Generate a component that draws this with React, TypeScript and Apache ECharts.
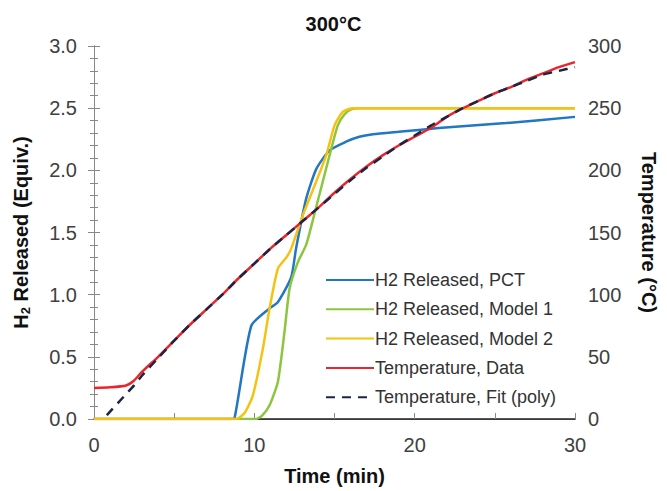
import React, { useEffect, useRef } from "react";
import * as echarts from "echarts";

const xTicks = [0, 10, 20, 30];

// H2 Released, PCT  [time (min), equiv]
const pctTime = [0, 8.5, 8.77, 9.81, 10.95, 11.47, 12.3, 12.6, 13.23, 13.86, 14.69, 15.72, 16.55, 17.4, 19, 21.5, 25.7, 30];
const pctVal = [0, 0, 0.01, 0.75, 0.89, 0.94, 1.14, 1.37, 1.77, 2.01, 2.16, 2.23, 2.27, 2.29, 2.31, 2.34, 2.38, 2.43];

// H2 Released, Model 1
const m1Time = [0, 10.1, 10.5, 10.95, 11.47, 11.88, 12.2, 12.71, 13.23, 13.65, 14.27, 14.69, 15.2, 15.62, 16.03, 16.5, 30];
const m1Val = [0, 0, 0.03, 0.11, 0.3, 0.7, 1.05, 1.26, 1.4, 1.6, 1.91, 2.12, 2.36, 2.45, 2.49, 2.5, 2.5];

// H2 Released, Model 2
const m2Time = [0, 8.88, 9.4, 9.91, 10.54, 10.95, 11.47, 12.0, 12.3, 13.03, 13.86, 14.48, 15.0, 15.51, 16.14, 30];
const m2Val = [0, 0, 0.05, 0.19, 0.57, 0.89, 1.21, 1.3, 1.37, 1.64, 1.91, 2.12, 2.36, 2.47, 2.5, 2.5];

// Temperature, Data (°C)
const tempTime = [0, 1, 2, 2.5, 3, 4, 5, 6, 7, 8, 9, 10, 11, 12, 13, 14, 15, 16, 17, 18, 19, 20, 21, 22, 23, 24, 25, 26, 27, 28, 29, 30];
const tempVal = [25, 25.5, 27, 31, 38, 50, 63, 76, 88, 100, 113, 125, 137, 148, 159, 170, 182, 193, 203, 212, 220, 227, 234, 243, 250, 256, 262, 267, 273, 278, 283, 287];

// Temperature, Fit (poly)
const fitTime = [0.8, 1, 1.5, 2, 2.5, 3, 4, 5, 6, 7, 8, 9, 10, 11, 12, 13, 14, 15, 16, 17, 18, 19, 20, 21, 22, 23, 24, 25, 26, 27, 28, 29, 30];
const fitVal = [3, 6, 13, 20, 27, 35, 49, 63, 76, 88, 100, 113, 125, 137, 148, 159, 170, 181, 192, 202, 211, 220, 228, 236, 243, 250, 256, 262, 267, 272, 277, 280, 283];

const pair = (xs: number[], ys: number[]) => xs.map((x, i) => [x, ys[i]]);

export default function App() {
  const ref = useRef<HTMLDivElement>(null);
  useEffect(() => {
    if (!ref.current) return;
    const chart = echarts.init(ref.current, null, { renderer: "svg" });
    const font = "Arial, 'Liberation Sans', sans-serif";
    const lbl = { color: "#404040", fontSize: 20, fontFamily: font };
    const lineW = 2.5;
    chart.setOption({
      animation: false,
      backgroundColor: "#ffffff",
      title: {
        text: "300°C",
        left: "center",
        top: 9,
        textStyle: { fontSize: 20, fontWeight: "bold", color: "#111", fontFamily: font },
      },
      grid: { left: 94, right: 91, top: 46, bottom: 70 },
      legend: {
        orient: "vertical",
        left: 320,
        top: 266,
        itemWidth: 48,
        itemHeight: 18,
        itemGap: 11.3,
        itemStyle: { opacity: 0 },
        textStyle: { fontSize: 18, lineHeight: 18, color: "#333", fontFamily: font, padding: [0, 0, 0, -4] },
        data: [
          "H2 Released, PCT",
          "H2 Released, Model 1",
          "H2 Released, Model 2",
          "Temperature, Data",
          "Temperature, Fit (poly)",
        ],
      },
      xAxis: [
        {
          type: "value",
          min: 0,
          max: 30,
          interval: 5,
          name: "Time (min)",
          nameLocation: "middle",
          nameGap: 47,
          nameTextStyle: { fontSize: 20, fontWeight: "bold", color: "#111", fontFamily: font },
          axisLine: { lineStyle: { color: "#888", width: 1 } },
          axisTick: { inside: true, length: 6, lineStyle: { color: "#888" } },
          axisLabel: {
            ...lbl,
            margin: 16,
            formatter: (v: number) => (xTicks.includes(v) ? String(v) : ""),
          },
          splitLine: { show: false },
        },
        {
          type: "value",
          position: "top",
          min: 0,
          max: 30,
          axisLine: { show: true, lineStyle: { color: "#222", width: 1.5 } },
          axisTick: { show: false },
          axisLabel: { show: false },
          splitLine: { show: false },
        },
      ],
      yAxis: [
        {
          type: "value",
          min: 0,
          max: 3,
          interval: 0.5,
          name: "{b|H}{s|2}{b| Released (Equiv.)}",
          nameLocation: "middle",
          nameGap: 62,
          nameRotate: 90,
          nameTextStyle: {
            rich: {
              b: { fontSize: 20, fontWeight: "bold", color: "#111", fontFamily: font },
              s: { fontSize: 13, fontWeight: "bold", color: "#111", fontFamily: font, verticalAlign: "bottom", padding: [9, 0, 0, 0] },
            },
          },
          axisLine: { show: true, lineStyle: { color: "#888", width: 1 } },
          axisTick: { inside: true, length: 6, lineStyle: { color: "#888" } },
          minorTick: { show: true, splitNumber: 5, length: 4, lineStyle: { color: "#888" } },
          axisLabel: { ...lbl, margin: 17, formatter: (v: number) => v.toFixed(1) },
          splitLine: { show: false },
        },
        {
          type: "value",
          min: 0,
          max: 300,
          interval: 50,
          position: "right",
          name: "Temperature (°C)",
          nameLocation: "middle",
          nameGap: 64,
          nameRotate: -90,
          nameTextStyle: { fontSize: 20, fontWeight: "bold", color: "#111", fontFamily: font },
          axisLine: { show: true, lineStyle: { color: "#888", width: 1 } },
          axisTick: { inside: true, length: 6, lineStyle: { color: "#888" } },
          minorTick: { show: true, splitNumber: 5, length: 4, lineStyle: { color: "#888" } },
          axisLabel: { ...lbl, margin: 13 },
          splitLine: { show: false },
        },
      ],
      series: [
        {
          name: "H2 Released, PCT",
          type: "line",
          symbol: "none",
          data: pair(pctTime, pctVal),
          color: "#2277c2",
          lineStyle: { width: lineW, color: "#2277c2" },
          smooth: 0.2,
        },
        {
          name: "H2 Released, Model 1",
          type: "line",
          symbol: "none",
          data: pair(m1Time, m1Val),
          color: "#8cc63e",
          lineStyle: { width: lineW, color: "#8cc63e" },
          smooth: 0.2,
        },
        {
          name: "H2 Released, Model 2",
          type: "line",
          symbol: "none",
          data: pair(m2Time, m2Val),
          color: "#f5c211",
          lineStyle: { width: lineW, color: "#f5c211" },
          smooth: 0.2,
        },
        {
          name: "Temperature, Data",
          type: "line",
          symbol: "none",
          yAxisIndex: 1,
          data: pair(tempTime, tempVal),
          color: "#e8262b",
          lineStyle: { width: lineW, color: "#e8262b" },
          smooth: 0.2,
        },
        {
          name: "Temperature, Fit (poly)",
          type: "line",
          symbol: "none",
          yAxisIndex: 1,
          data: pair(fitTime, fitVal),
          color: "#1b2444",
          lineStyle: { width: lineW, color: "#1b2444", type: [9, 7] },
          smooth: 0.2,
        },
      ],
    });
    return () => chart.dispose();
  }, []);
  return <div ref={ref} style={{ width: 667, height: 491, position: "absolute", left: 0, top: 0 }} />;
}
